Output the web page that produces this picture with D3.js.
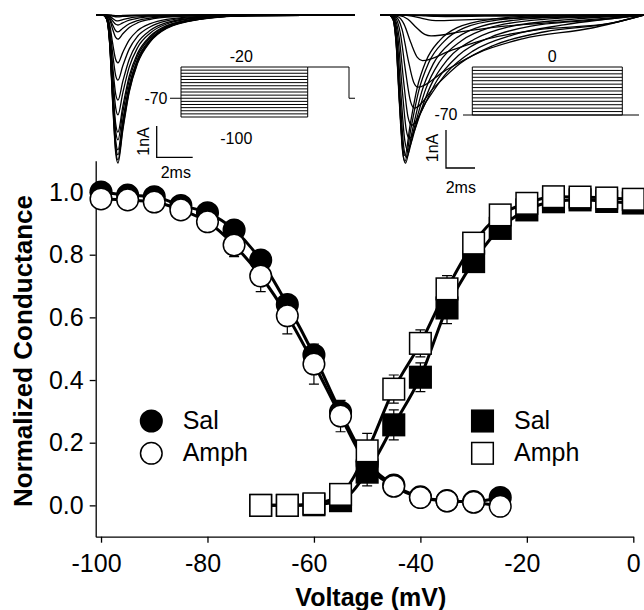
<!DOCTYPE html>
<html>
<head>
<meta charset="utf-8">
<script src="https://cdn.jsdelivr.net/npm/d3@7"></script>
<style>
  body { margin: 0; background: #fff; }
  svg { display: block; font-family: "Liberation Sans", Arial, Helvetica, sans-serif; }
  .fit { fill: none; stroke: #000; stroke-width: 3; }
  .trace { fill: none; stroke: #000; stroke-width: 1.3; }
  .proto { fill: none; stroke: #000; stroke-width: 1; }
  .bar { fill: none; stroke: #000; stroke-width: 1.3; }
  .err { fill: none; stroke: #000; stroke-width: 1.2; }
  .axis path, .axis line { stroke: #000; stroke-width: 1.3; }
  .axis text { fill: #000; }
</style>
</head>
<body>
<svg width="644" height="610"></svg>
<script>
// steady-state inactivation (circles), normalized conductance
const inactV = [-100, -95, -90, -85, -80, -75, -70, -65, -60, -55, -50, -45, -40, -35, -30, -25];
const inactSal = [1.0, 0.99, 0.985, 0.957, 0.934, 0.879, 0.783, 0.641, 0.48, 0.298, 0.14, 0.065, 0.027, 0.015, 0.012, 0.025];
const inactSalErr = [0.01, 0.01, 0.01, 0.01, 0.01, 0.015, 0.015, 0.02, 0.02, 0.02, 0.015, 0.01, 0.01, 0.005, 0.005, 0.005];
const inactAmph = [0.978, 0.975, 0.968, 0.943, 0.905, 0.831, 0.732, 0.605, 0.451, 0.285, 0.13, 0.061, 0.025, 0.014, 0.01, -0.003];
const inactAmphErr = [0.01, 0.01, 0.01, 0.015, 0.02, 0.037, 0.05, 0.058, 0.064, 0.05, 0.02, 0.01, 0.01, 0.005, 0.005, 0.005];

// activation (squares), normalized conductance
const actV = [-70, -65, -60, -55, -50, -45, -40, -35, -30, -25, -20, -15, -10, -5, 0];
const actSal = [0.0, 0.0, 0.002, 0.015, 0.106, 0.257, 0.409, 0.63, 0.778, 0.884, 0.943, 0.969, 0.975, 0.97, 0.965];
const actSalErr = [0.005, 0.005, 0.005, 0.01, 0.044, 0.048, 0.046, 0.05, 0.02, 0.015, 0.01, 0.01, 0.01, 0.01, 0.01];
const actAmph = [0.0, 0.0, 0.005, 0.035, 0.174, 0.371, 0.517, 0.691, 0.837, 0.927, 0.964, 0.985, 0.984, 0.981, 0.977];
const actAmphErr = [0.005, 0.005, 0.005, 0.01, 0.056, 0.045, 0.043, 0.042, 0.02, 0.015, 0.01, 0.01, 0.01, 0.01, 0.01];

const xTicks = [-100, -80, -60, -40, -20, 0];
const yTicks = [0.0, 0.2, 0.4, 0.6, 0.8, 1.0];
const legendLabels = ["Sal", "Amph"];

// inset A: inactivation protocol and current traces (peak in nA per prepulse)
const prepulseV = [-100, -95, -90, -85, -80, -75, -70, -65, -60, -55, -50, -45, -40, -35, -30, -25, -20];
const inactPeakNA = [4.73, 4.63, 4.47, 4.31, 3.99, 3.74, 3.19, 2.72, 2.08, 1.53, 0.77, 0.54, 0.32, 0.19, 0.06, 0.03, 0.02];
const inactPeakMs = 0.83;
const inactDecayMs = 0.9;

// inset B: activation protocol and current traces
const testV = [-70, -65, -60, -55, -50, -45, -40, -35, -30, -25, -20, -15, -10, -5, 0];
const actPeakNA = [0, 0.01, 0.04, 0.15, 0.55, 1.2, 1.9, 2.45, 2.9, 3.25, 3.55, 3.75, 3.9, 3.85, 3.7];
const actPeakMs = [4.4, 4.2, 3.9, 3.5, 2.9, 2.3, 2.0, 1.75, 1.55, 1.4, 1.28, 1.2, 1.13, 1.1, 1.1];
const actDecayMs = [9, 9, 9, 8.5, 7.5, 6.5, 6.0, 4.5, 3.5, 2.8, 2.3, 1.9, 1.6, 1.35, 1.2];

// shape of one Na current trace
const riseFrac = [0.25, 0.45, 0.65, 0.85, 1];
const riseLevel = [0.03, 0.2, 0.6, 0.93, 1];
const decayFrac = [0.3, 0.7, 1.2, 2, 3, 5, 8];
const decayLevel = [0.78, 0.52, 0.33, 0.18, 0.09, 0.03, 0.005];

const svg = d3.select("svg");

drawMain();
drawInactInset();
drawActInset();

function drawMain() {
  const xScale = d3.scaleLinear().domain([-101, 0]).range([95.7, 633.3]);
  const yScale = d3.scaleLinear().domain([-0.1, 1.1]).range([536.7, 160.7]);

  // plain hyphen like the original, not the unicode minus
  const xAxis = d3.axisBottom(xScale).tickValues(xTicks).tickSize(6).tickSizeOuter(0).tickPadding(12)
    .tickFormat(d => String(d));
  const yAxis = d3.axisLeft(yScale).tickValues(yTicks).tickSize(6).tickSizeOuter(0).tickPadding(6)
    .tickFormat(d => d.toFixed(1));

  svg.append("g").classed("axis", true)
    .attr("transform", `translate(0,${yScale(-0.1)})`)
    .call(xAxis)
    .call(g => g.selectAll("text").attr("font-size", 25).attr("font-family", null)
      .attr("dx", d => d < 0 ? -5 : 0));
  svg.append("g").classed("axis", true)
    .attr("transform", `translate(${xScale(-101)},0)`)
    .call(yAxis)
    .call(g => g.selectAll("text").attr("font-size", 25).attr("font-family", null));

  svg.append("text")
    .attr("x", 370.8).attr("y", 606)
    .attr("text-anchor", "middle")
    .attr("font-size", 25).attr("font-weight", "bold")
    .text("Voltage (mV)");
  svg.append("text")
    .attr("transform", "translate(31.7,351) rotate(-90)")
    .attr("text-anchor", "middle")
    .attr("font-size", 26).attr("font-weight", "bold")
    .text("Normalized Conductance");

  const series = [
    { v: inactV, g: inactSal, e: inactSalErr, shape: "circle", filled: true },
    { v: inactV, g: inactAmph, e: inactAmphErr, shape: "circle", filled: false },
    { v: actV, g: actSal, e: actSalErr, shape: "square", filled: true },
    { v: actV, g: actAmph, e: actAmphErr, shape: "square", filled: false }
  ];

  const line = d3.line()
    .curve(d3.curveMonotoneX)
    .x(d => xScale(d[0]))
    .y(d => yScale(d[1]));

  // fit lines under everything
  svg.selectAll(".fit")
    .data(series)
    .enter()
    .append("path")
    .attr("class", "fit")
    .attr("d", s => line(s.v.map((v, i) => [v, s.g[i]])));

  // error bars
  series.forEach(s => {
    const pts = s.v.map((v, i) => ({ v: v, g: s.g[i], e: s.e[i] }));
    const eg = svg.append("g").attr("class", "err");
    eg.selectAll("path").data(pts).enter().append("path")
      .attr("d", d => {
        const x = xScale(d.v), y1 = yScale(d.g - d.e), y2 = yScale(d.g + d.e);
        return `M${x},${y1}V${y2}M${x - 5},${y1}H${x + 5}M${x - 5},${y2}H${x + 5}`;
      });
  });

  const r = 10.8;
  series.forEach(s => {
    const pts = s.v.map((v, i) => ({ v: v, g: s.g[i] }));
    const mg = svg.append("g");
    if (s.shape === "circle") {
      mg.selectAll("circle").data(pts).enter().append("circle")
        .attr("cx", d => xScale(d.v)).attr("cy", d => yScale(d.g)).attr("r", r)
        .attr("fill", s.filled ? "#000" : "#fff").attr("stroke", "#000").attr("stroke-width", 1.5);
    } else {
      mg.selectAll("rect").data(pts).enter().append("rect")
        .attr("x", d => xScale(d.v) - r).attr("y", d => yScale(d.g) - r)
        .attr("width", 2 * r).attr("height", 2 * r)
        .attr("fill", s.filled ? "#000" : "#fff").attr("stroke", "#000").attr("stroke-width", 1.5);
    }
  });

  // legends
  const legY = [421, 453.3];
  legendLabels.forEach((lab, i) => {
    svg.append("circle").attr("cx", 151.3).attr("cy", legY[i]).attr("r", r)
      .attr("fill", i === 0 ? "#000" : "#fff").attr("stroke", "#000").attr("stroke-width", 1.5);
    svg.append("text").attr("x", 182.7).attr("y", legY[i] + 7.5).attr("font-size", 25).text(lab);
    svg.append("rect").attr("x", 482.5 - r).attr("y", legY[i] - r).attr("width", 2 * r).attr("height", 2 * r)
      .attr("fill", i === 0 ? "#000" : "#fff").attr("stroke", "#000").attr("stroke-width", 1.5);
    svg.append("text").attr("x", 514).attr("y", legY[i] + 7.5).attr("font-size", 25).text(lab);
  });
}

function tracePoints(amp, tp, tau, t0, t1) {
  const pts = [[t0, 0], [0, 0]];
  riseFrac.forEach((f, i) => pts.push([f * tp, amp * riseLevel[i]]));
  decayFrac.forEach((f, i) => {
    const t = tp + f * tau;
    if (t < t1) pts.push([t, amp * decayLevel[i]]);
  });
  pts.push([t1, 0]);
  return pts;
}

function drawTraces(g, traces, timeScale, curScale) {
  const line = d3.line()
    .curve(d3.curveMonotoneX)
    .x(d => timeScale(d[0]))
    .y(d => curScale(d[1]));
  g.selectAll(".trace").data(traces).enter()
    .append("path").attr("class", "trace")
    .attr("d", line);
}

function scaleBar(g, timeScale, curScale, x0, y0, ms, nA) {
  const w = timeScale(ms) - timeScale(0);
  const h = curScale(nA) - curScale(0);
  g.append("path").attr("class", "bar")
    .attr("d", `M${x0},${y0 - h}V${y0}H${x0 + w}`);
}

function drawInactInset() {
  const g = svg.append("g");
  const timeScale = d3.scaleLinear().domain([0, 2]).range([103, 139]);
  const curScale = d3.scaleLinear().domain([0, 1]).range([15, 46.3]);
  const t0 = timeScale.invert(96.7), t1 = timeScale.invert(355);
  const traces = inactPeakNA.map(a => tracePoints(a, inactPeakMs, inactDecayMs, t0, t1));
  drawTraces(g, traces, timeScale, curScale);

  // voltage protocol
  const vScale = d3.scaleLinear().domain([-100, -20]).range([117, 67]);
  const bx0 = 181, bx1 = 307.7, tx1 = 349, end = 355;
  g.append("path").attr("class", "proto")
    .attr("d", `M170,${vScale(-70)}H${bx0}`);
  g.selectAll(".step").data(prepulseV).enter().append("path").attr("class", "proto step")
    .attr("d", v => `M${bx0},${vScale(v)}H${bx1}`);
  g.append("path").attr("class", "proto")
    .attr("d", `M${bx0},${vScale(-100)}V${vScale(-20)}M${bx1},${vScale(-100)}V${vScale(-20)}H${tx1}V${vScale(-70)}H${end}`);
  g.append("text").attr("x", 241.3).attr("y", 61.7).attr("text-anchor", "middle").attr("font-size", 16).text("-20");
  g.append("text").attr("x", 167.5).attr("y", 104).attr("text-anchor", "end").attr("font-size", 16).text("-70");
  g.append("text").attr("x", 236.3).attr("y", 144).attr("text-anchor", "middle").attr("font-size", 16).text("-100");

  scaleBar(g, timeScale, curScale, 156.7, 157.3, 2, 1);
  g.append("text").attr("transform", "translate(149,141.5) rotate(-90)")
    .attr("text-anchor", "middle").attr("font-size", 16).text("1nA");
  g.append("text").attr("x", 175.8).attr("y", 178.3).attr("text-anchor", "middle").attr("font-size", 16).text("2ms");
}

function drawActInset() {
  const g = svg.append("g");
  const timeScale = d3.scaleLinear().domain([0, 2]).range([389, 418]);
  const curScale = d3.scaleLinear().domain([0, 1]).range([15, 53]);
  const t0 = timeScale.invert(380), t1 = timeScale.invert(644);
  const traces = actPeakNA.map((a, i) => tracePoints(a, actPeakMs[i], actDecayMs[i], t0, t1));
  drawTraces(g, traces, timeScale, curScale);

  const vScale = d3.scaleLinear().domain([-70, 0]).range([115, 67]);
  const bx0 = 472.3, bx1 = 622.3;
  g.append("path").attr("class", "proto")
    .attr("d", `M463,${vScale(-70)}H639`);
  g.selectAll(".step").data(testV).enter().append("path").attr("class", "proto step")
    .attr("d", v => `M${bx0},${vScale(v)}H${bx1}`);
  g.append("path").attr("class", "proto")
    .attr("d", `M${bx0},${vScale(-70)}V${vScale(0)}M${bx1},${vScale(-70)}V${vScale(0)}`);
  g.append("text").attr("x", 552.3).attr("y", 62).attr("text-anchor", "middle").attr("font-size", 16).text("0");
  g.append("text").attr("x", 457.5).attr("y", 120).attr("text-anchor", "end").attr("font-size", 16).text("-70");

  scaleBar(g, timeScale, curScale, 446, 168, 2, 1);
  g.append("text").attr("transform", "translate(438,148) rotate(-90)")
    .attr("text-anchor", "middle").attr("font-size", 16).text("1nA");
  g.append("text").attr("x", 460.8).attr("y", 193.3).attr("text-anchor", "middle").attr("font-size", 16).text("2ms");
}
</script>
</body>
</html>
